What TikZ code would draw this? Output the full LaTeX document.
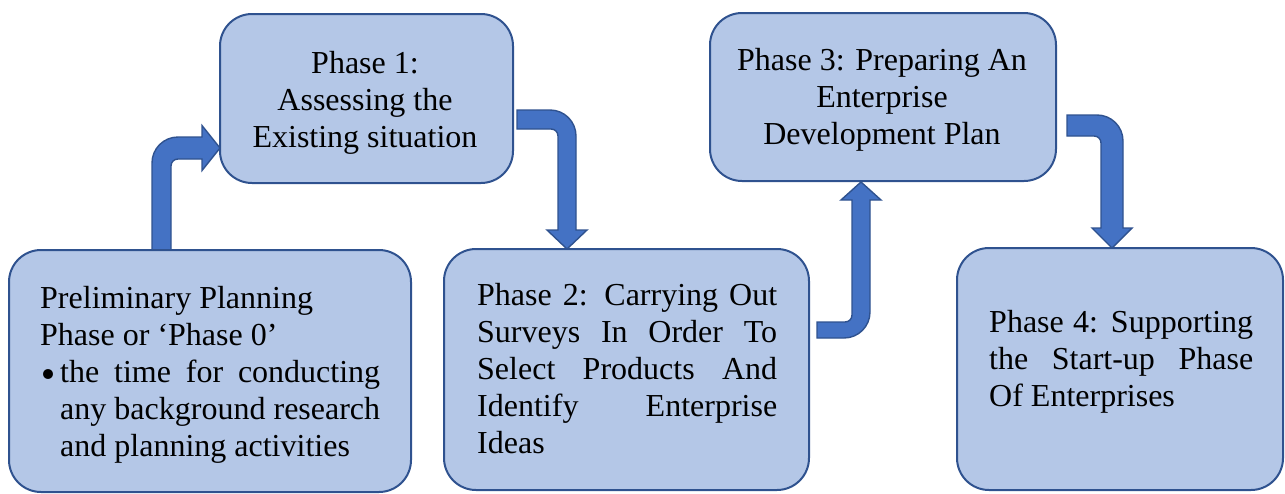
\documentclass[tikz,border=0pt]{standalone}
\usepackage{fontspec}
\setmainfont{Liberation Serif}
\definecolor{boxfill}{HTML}{B4C7E7}
\definecolor{boxline}{HTML}{2F528F}
\definecolor{arrfill}{HTML}{4472C4}
\tikzset{
  phasebox/.style={draw=boxline, fill=boxfill, line width=2pt, rounded corners=32pt, inner sep=0pt},
  blockarrow/.style={draw=boxline, fill=arrfill, line width=1.4pt, line join=miter},
  phasetext/.style={inner sep=0pt, font=\fontsize{32}{37}\selectfont, text=black}
}
\newcommand{\bigbul}{\setlength{\unitlength}{1pt}\begin{picture}(20,0)\put(8,8){\circle*{10}}\end{picture}}
\begin{document}
\begin{tikzpicture}[x=1pt,y=-1pt]
\useasboundingbox (0,0) rectangle (1285,493);
% block arrows
\path[blockarrow] (152,251) -- (152,163) .. controls (152,148.6) and (163.6,137) .. (178,137) -- (202,137) -- (202,125.5) -- (220,148) -- (202,170.5) -- (202,159) -- (178,159) .. controls (174.1,159) and (171,162.1) .. (171,166) -- (171,251) -- cycle;
\path[blockarrow] (517,110) -- (550,110) .. controls (564.4,110) and (576,121.6) .. (576,136) -- (576,230) -- (587,230) -- (567,249) -- (547,230) -- (558,230) -- (558,136) .. controls (558,132.1) and (554.9,129) .. (551,129) -- (517,129) -- cycle;
\path[blockarrow] (817,338) -- (844,338) .. controls (858.4,338) and (870,326.4) .. (870,312) -- (870,200) -- (881,200) -- (861,182) -- (841,200) -- (852,200) -- (852,315) .. controls (852,318.9) and (848.9,322) .. (845,322) -- (817,322) -- cycle;
\path[blockarrow] (1067,115) -- (1097,115) .. controls (1111.4,115) and (1123,126.6) .. (1123,141) -- (1123,228) -- (1132,228) -- (1112,248) -- (1092,228) -- (1101,228) -- (1101,143) .. controls (1101,139.1) and (1097.9,136) .. (1094,136) -- (1067,136) -- cycle;
% boxes
\node[phasebox, minimum width=402pt, minimum height=242pt] (b0) at (210,371) {};
\node[phasebox, minimum width=293pt, minimum height=169pt] (b1) at (366.5,98.5) {};
\node[phasebox, minimum width=365pt, minimum height=241pt] (b2) at (626.5,369.5) {};
\node[phasebox, minimum width=346pt, minimum height=168pt] (b3) at (883,97) {};
\node[phasebox, minimum width=326pt, minimum height=242pt] (b4) at (1120,369) {};
% texts
\node[phasetext, anchor=base west] (t0) at (40,308) {\parbox[t]{345pt}{%
Preliminary Planning\\
Phase or ‘Phase 0’\\
\bigbul\makebox[320pt][s]{the time for conducting}\\
\hspace*{20pt}\makebox[320pt][s]{any background research}\\
\hspace*{20pt}and planning activities}};
\node[phasetext, anchor=base] (t1) at (365,73) {\parbox[t]{290pt}{\centering
Phase 1:\\Assessing the\\Existing situation}};
\node[phasetext, anchor=base west] (t2) at (477,305) {\parbox[t]{310pt}{%
\makebox[300pt][s]{Phase 2: Carrying Out}\\
\makebox[300pt][s]{Surveys In Order To}\\
\makebox[300pt][s]{Select Products And}\\
\makebox[300pt][s]{Identify Enterprise}\\
Ideas}};
\node[phasetext, anchor=base] (t3) at (882,70) {\parbox[t]{340pt}{\centering
Phase 3: Preparing An\\Enterprise\\Development Plan}};
\node[phasetext, anchor=base west] (t4) at (989,332) {\parbox[t]{280pt}{%
\makebox[264pt][s]{Phase 4: Supporting}\\
\makebox[264pt][s]{the Start-up Phase}\\
Of Enterprises}};
\end{tikzpicture}
\end{document}
